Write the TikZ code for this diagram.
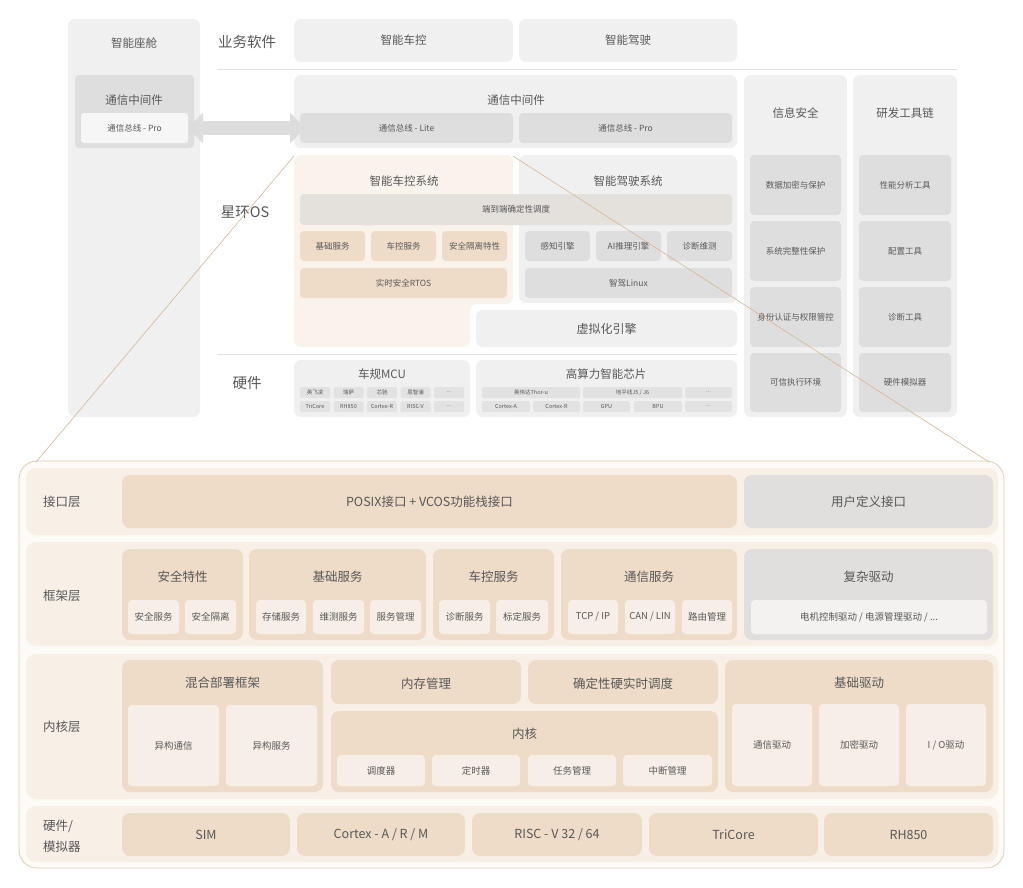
\documentclass[tikz,border=0pt]{standalone}
\usepackage{fontspec}
\setmainfont{Noto Sans CJK SC}
\usetikzlibrary{fit,arrows.meta}
\definecolor{pnlg}{HTML}{F0F0F0}
\definecolor{ging}{HTML}{DEDEDE}
\definecolor{gltg}{HTML}{F6F6F6}
\definecolor{chipg}{HTML}{E2E2E2}
\definecolor{arrg}{HTML}{DDDDDD}
\definecolor{bglt}{HTML}{F9F3EC}
\definecolor{bmid}{HTML}{EEDCC8}
\definecolor{schedg}{HTML}{E4E0DC}
\definecolor{frfill}{HTML}{FDFAF7}
\definecolor{frline}{HTML}{E3CDB5}
\definecolor{rowf}{HTML}{F8F0E7}
\definecolor{subf}{HTML}{F7EFE7}
\definecolor{gitemg}{HTML}{E0DFDD}
\definecolor{gsubg}{HTML}{F3F2F1}
\definecolor{zline}{HTML}{D3B896}
\definecolor{txt}{HTML}{585858}
\definecolor{hline}{HTML}{E0E0E0}
\begin{document}
\begin{tikzpicture}[x=1pt,y=-1pt,
  every node/.style={inner sep=0pt,outer sep=0pt,text=txt},
  fbig/.style={font=\fontsize{14.5}{17}\selectfont},
  fmid/.style={font=\fontsize{11.5}{14}\selectfont},
  fvirt/.style={font=\fontsize{12}{14}\selectfont},
  fsm/.style={font=\fontsize{8.5}{10}\selectfont},
  ftiny/.style={font=\fontsize{5.5}{6}\selectfont},
  flay/.style={font=\fontsize{12.5}{21}\selectfont},
  fsub/.style={font=\fontsize{9.5}{11}\selectfont},
  pnl/.style={fill=pnlg,rounded corners=7pt},
  gin/.style={fill=ging,rounded corners=4pt},
  glt/.style={fill=gltg,rounded corners=3pt},
  chip/.style={fill=chipg,rounded corners=1.5pt},
  bsm/.style={fill=bmid,rounded corners=4pt},
  sched/.style={fill=schedg,rounded corners=4pt},
  zoomframe/.style={fill=frfill,draw=frline,line width=0.8pt,rounded corners=18pt},
  lyr/.style={fill=rowf,rounded corners=10pt},
  item/.style={fill=bmid,rounded corners=8pt},
  gitem/.style={fill=gitemg,rounded corners=8pt},
  sub/.style={fill=subf,rounded corners=4pt},
  gsub/.style={fill=gsubg,rounded corners=4pt},
  divider/.style={draw=hline,line width=0.8pt},
  zoomln/.style={draw=zline,line width=0.6pt},
  busarr/.style={draw=arrg,line width=14pt,{Triangle[length=15pt,width=30pt]}-{Triangle[length=15pt,width=30pt]}}
]
\useasboundingbox[fill=white] (0,0) rectangle (1023,887);

% top: cabin column
\node[pnl,fit={(68,19) (200,417)}] (cabin) {};
\node[fmid] (cabintitle) at (134,43) {智能座舱};
\node[gin,fit={(75,75) (194,148)}] (cabmw) {};
\node[fmid] (cabmwtitle) at (134,100) {通信中间件};
\node[glt,fit={(81,113) (188,143)}] (cabpro) {};
\node[fsm] (cabprot) at (cabpro) {通信总线 - Pro};

% business software
\node[fbig] (bizlab) at (247,42) {业务软件};
\node[pnl,fit={(294,19) (513,62)}] (app1) {};
\node[fmid] (app1t) at (app1) {智能车控};
\node[pnl,fit={(519,19) (737,62)}] (app2) {};
\node[fmid] (app2t) at (app2) {智能驾驶};
\draw[divider] (217,69) -- (957,69);

% middleware
\node[pnl,fit={(294,75) (737,148)}] (mw) {};
\node[fmid] (mwtitle) at (516,100) {通信中间件};
\node[gin,fit={(300,113) (513,143)}] (lite) {};
\node[fsm] (litet) at (lite) {通信总线 - Lite};
\node[gin,fit={(519,113) (732,143)}] (pro) {};
\node[fsm] (prot) at (pro) {通信总线 - Pro};
\draw[busarr] (cabpro.east) -- ([xshift=5pt]lite.west);

% security and tools
\node[pnl,fit={(744,75) (847,417)}] (sec) {};
\node[fmid] (sectitle) at (795.5,113) {信息安全};
\foreach \n/\ya/\yb/\t in {1/155/215/数据加密与保护,2/221/281/系统完整性保护,3/287/347/身份认证与权限管控,4/353/412/可信执行环境}{
  \node[gin,fit={(750,\ya) (841,\yb)}] (sec\n) {};
  \node[fsm] (sec\n t) at (sec\n) {\t};
}
\node[pnl,fit={(853,75) (957,417)}] (tool) {};
\node[fmid] (tooltitle) at (905,113) {研发工具链};
\foreach \n/\ya/\yb/\t in {1/155/215/性能分析工具,2/221/281/配置工具,3/287/347/诊断工具,4/353/412/硬件模拟器}{
  \node[gin,fit={(859,\ya) (951,\yb)}] (tool\n) {};
  \node[fsm] (tool\n t) at (tool\n) {\t};
}

% os
\node[fbig] (oslab) at (245,212) {星环OS};
\fill[bglt,rounded corners=7pt] (294,155) -- (513,155) -- (513,304) -- (470,304) -- (470,347) -- (294,347) -- cycle;
\coordinate (ctrlnw) at (294,156);
\coordinate (ctrlne) at (513,156);
\node[fmid] (ctrltitle) at (404,181) {智能车控系统};
\node[pnl,fit={(519,155) (737,303)}] (adsys) {};
\node[fmid] (adtitle) at (628,181) {智能驾驶系统};
\node[sched,fit={(300,194) (732,225)}] (e2e) {};
\node[fsm] (e2et) at (e2e) {端到端确定性调度};
\foreach \n/\xa/\xb/\t in {1/300/365/基础服务,2/371/436/车控服务,3/442/507/安全隔离特性}{
  \node[bsm,fit={(\xa,231) (\xb,261)}] (c\n) {};
  \node[fsm] (c\n t) at (c\n) {\t};
}
\node[bsm,fit={(300,268) (507,298)}] (rtos) {};
\node[fsm] (rtost) at (rtos) {实时安全RTOS};
\foreach \n/\xa/\xb/\t in {1/525/590/感知引擎,2/596/661/AI推理引擎,3/667/732/诊断维测}{
  \node[gin,fit={(\xa,231) (\xb,261)}] (a\n) {};
  \node[fsm] (a\n t) at (a\n) {\t};
}
\node[gin,fit={(525,268) (732,298)}] (linux) {};
\node[fsm] (linuxt) at (linux) {智驾Linux};
\node[pnl,fit={(476,310) (737,347)}] (virt) {};
\node[fvirt] (virtt) at (virt) {虚拟化引擎};
\draw[divider] (217,354) -- (737,354);

% hardware
\node[fbig] (hwlab) at (247,383) {硬件};
\node[pnl,fit={(294,360) (470,417)}] (mcu) {};
\node[fmid] (mcutitle) at (382,374) {车规MCU};
\foreach \i/\a/\b in {0/英飞凌/TriCore,1/瑞萨/RH850,2/芯驰/Cortex-R,3/恩智浦/RISC-V}{
  \node[chip,fit={({300+33.5*\i},387) ({330+33.5*\i},398)}] (mcua\i) {};
  \node[ftiny] (mcua\i t) at (mcua\i) {\a};
  \node[chip,fit={({300+33.5*\i},401) ({330+33.5*\i},412)}] (mcub\i) {};
  \node[ftiny] (mcub\i t) at (mcub\i) {\b};
}
\node[chip,fit={(434,387) (464,398)}] (mcua4) {};
\node[ftiny] (mcua4t) at (mcua4) {...};
\node[chip,fit={(434,401) (464,412)}] (mcub4) {};
\node[ftiny] (mcub4t) at (mcub4) {...};
\node[pnl,fit={(476,360) (737,417)}] (soc) {};
\node[fmid] (soctitle) at (606,374) {高算力智能芯片};
\node[chip,fit={(482,387) (580,398)}] (soca1) {};
\node[ftiny] (soca1t) at (soca1) {英伟达Thor-u};
\node[chip,fit={(583,387) (682,398)}] (soca2) {};
\node[ftiny] (soca2t) at (soca2) {地平线J5 / J6};
\node[chip,fit={(685,387) (732,398)}] (soca3) {};
\node[ftiny] (soca3t) at (soca3) {...};
\foreach \n/\xa/\xb/\t in {1/482/530/Cortex-A,2/533/580/Cortex-R,3/583/630/GPU,4/634/682/BPU}{
  \node[chip,fit={(\xa,401) (\xb,412)}] (socb\n) {};
  \node[ftiny] (socb\n t) at (socb\n) {\t};
}
\node[chip,fit={(685,401) (732,412)}] (socb5) {};
\node[ftiny] (socb5t) at (socb5) {...};

% bottom: zoomed vcos stack
\node[zoomframe,fit={(19,461) (1004,868)}] (vcos) {};
\coordinate (zl) at (36,462);
\coordinate (zr) at (989,462);
\node[lyr,fit={(26,468) (998,535)}] (row1) {};
\node[lyr,fit={(26,542) (998,646)}] (row2) {};
\node[lyr,fit={(26,654) (998,799)}] (row3) {};
\node[lyr,fit={(26,806) (998,862)}] (row4) {};

% interface layer
\node[flay,anchor=west] (lab1) at (43,502) {接口层};
\node[item,fit={(122,475) (737,528)}] (posix) {};
\node[flay] (posixt) at (posix) {POSIX接口 + VCOS功能栈接口};
\node[gitem,fit={(744,475) (993,528)}] (user) {};
\node[flay] (usert) at (user) {用户定义接口};

% framework layer
\node[flay,anchor=west] (lab2) at (43,596) {框架层};
\node[item,fit={(122,549) (243,640)}] (safe) {};
\node[flay] (safetitle) at (182.5,577) {安全特性};
\node[item,fit={(249,549) (426,640)}] (basic) {};
\node[flay] (basictitle) at (337.5,577) {基础服务};
\node[item,fit={(433,549) (554,640)}] (vctl) {};
\node[flay] (vctltitle) at (493.5,577) {车控服务};
\node[item,fit={(561,549) (737,640)}] (comm) {};
\node[flay] (commtitle) at (649,577) {通信服务};
\foreach \n/\xa/\xb/\t in {1/128/179/安全服务,2/185/236/安全隔离,3/256/306/存储服务,4/313/364/维测服务,5/370/421/服务管理,6/439/490/诊断服务,7/496/548/标定服务,8/682/732/路由管理}{
  \node[sub,fit={(\xa,600) (\xb,634)}] (fw\n) {};
  \node[fsub] (fw\n t) at (fw\n) {\t};
}
\node[sub,fit={(568,600) (618,634)}] (comm1) {};
\node[fsub] (comm1t) at (comm1) {TCP / IP};
\node[sub,fit={(625,600) (675,634)}] (comm2) {};
\node[fsub] (comm2t) at (comm2) {CAN / LIN};
\node[gitem,fit={(744,549) (993,640)}] (cdd) {};
\node[flay] (cddtitle) at (868.5,577) {复杂驱动};
\node[gsub,fit={(751,600) (987,634)}] (cdd1) {};
\node[fsub] (cdd1t) at (cdd1) {电机控制驱动 / 电源管理驱动 / ...};

% kernel layer
\node[flay,anchor=west] (lab3) at (43,727) {内核层};
\node[item,fit={(122,660) (323,792)}] (mix) {};
\node[flay] (mixtitle) at (222.5,683) {混合部署框架};
\node[sub,fit={(128,705) (219,786)}] (mix1) {};
\node[fsub] (mix1t) at (mix1) {异构通信};
\node[sub,fit={(226,705) (317,786)}] (mix2) {};
\node[fsub] (mix2t) at (mix2) {异构服务};
\node[item,fit={(331,660) (521,704)}] (mem) {};
\node[flay] (memt) at ([yshift=-1.5pt]mem.center) {内存管理};
\node[item,fit={(528,660) (718,704)}] (rt) {};
\node[flay] (rtt) at ([yshift=-1.5pt]rt.center) {确定性硬实时调度};
\node[item,fit={(331,711) (718,792)}] (kern) {};
\node[flay] (kerntitle) at (524.5,734) {内核};
\foreach \n/\xa/\xb/\t in {1/337/425/调度器,2/432/520/定时器,3/528/616/任务管理,4/623/712/中断管理}{
  \node[sub,fit={(\xa,755) (\xb,786)}] (kern\n) {};
  \node[fsub] (kern\n t) at (kern\n) {\t};
}
\node[item,fit={(725,660) (993,792)}] (drv) {};
\node[flay] (drvtitle) at (859,683) {基础驱动};
\foreach \n/\xa/\xb/\t in {1/732/812/通信驱动,2/819/899/加密驱动}{
  \node[sub,fit={(\xa,704) (\xb,786)}] (drv\n) {};
  \node[fsub] (drv\n t) at (drv\n) {\t};
}
\node[sub,fit={(906,704) (986,786)}] (drv3) {};
\node[fsub] (drv3t) at (drv3) {I / O驱动};

% hardware / simulator layer
\node[flay,anchor=west,align=left] (lab4) at (43,836) {硬件/\\模拟器};
\node[item,fit={(122,813) (290,856)}] (hw1) {};
\node[flay] (hw1t) at (hw1) {SIM};
\node[item,fit={(297,813) (465,856)}] (hw2) {};
\node[flay] (hw2t) at (hw2) {Cortex - A / R / M};
\node[item,fit={(472,813) (642,856)}] (hw3) {};
\node[flay] (hw3t) at (hw3) {RISC - V 32 / 64};
\node[item,fit={(649,813) (818,856)}] (hw4) {};
\node[flay] (hw4t) at (hw4) {TriCore};
\node[item,fit={(824,813) (993,856)}] (hw5) {};
\node[flay] (hw5t) at (hw5) {RH850};

% zoom lines
\draw[zoomln] (ctrlnw) -- (zl);
\draw[zoomln] (ctrlne) -- (zr);
\end{tikzpicture}
\end{document}
